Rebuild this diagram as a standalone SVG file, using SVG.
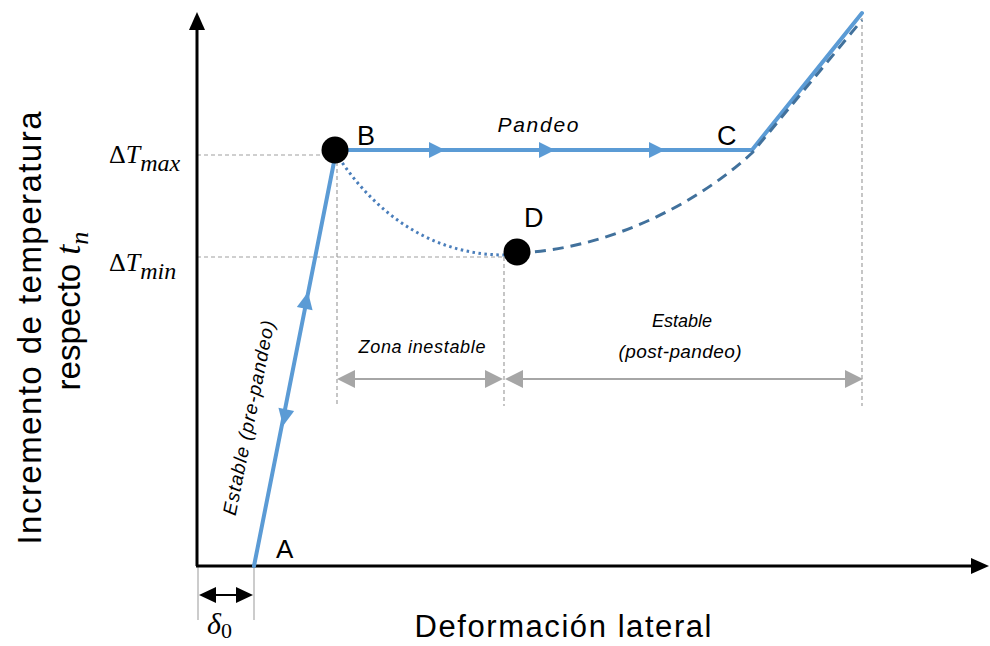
<svg xmlns="http://www.w3.org/2000/svg" width="990" height="646" viewBox="0 0 990 646">
<style>
  .axis{stroke:#000;stroke-width:3;fill:none}
  .blue{stroke:#5B9BD5;stroke-width:4;fill:none;stroke-linecap:round}
  .bluefill{fill:#5B9BD5}
  .dashb{stroke:#41719C;stroke-width:3;fill:none;stroke-dasharray:11 7}
  .dotb{stroke:#4A7EBB;stroke-width:3;fill:none;stroke-dasharray:2.5 3.5}
  .guide{stroke:#A0A0A0;stroke-width:1.2;fill:none;stroke-dasharray:4 3}
  .gline{stroke:#BBBBBB;stroke-width:1.5;fill:none}
  .garrow{stroke:#A6A6A6;stroke-width:2;fill:none}
  .gfill{fill:#A6A6A6}
  .lbl{font-family:"Liberation Sans",Arial,sans-serif;fill:#000}
  .it{font-style:italic}
  .math{font-family:"Liberation Serif","Times New Roman",serif;fill:#000}
</style>

<!-- guides -->
<g id="guides">
  <line class="guide" x1="197" y1="155" x2="336" y2="155"/>
  <line class="guide" x1="197" y1="257" x2="504" y2="257"/>
  <line class="guide" x1="337" y1="155" x2="337" y2="406"/>
  <line class="guide" x1="504" y1="257" x2="504" y2="406"/>
  <line class="guide" x1="862" y1="18" x2="862" y2="406"/>
  <line class="gline" x1="198" y1="566" x2="198" y2="620"/>
  <line class="gline" x1="254" y1="566" x2="254" y2="620"/>
</g>

<!-- axes -->
<g id="axes">
  <line class="axis" x1="197" y1="566" x2="197" y2="28"/>
  <polygon points="197,12 189,30 205,30" fill="#000"/>
  <line class="axis" x1="196" y1="566" x2="973" y2="566"/>
  <polygon points="989,566 971,558 971,574" fill="#000"/>
</g>

<!-- connectors -->
<g id="connectors">
  <line class="blue" x1="254" y1="566" x2="336" y2="152"/>
  <g class="bluefill">
    <polygon points="0,0 -17,-8 -17,8" transform="translate(308,292) rotate(-78.8)"/>
    <polygon points="0,0 -17,-8 -17,8" transform="translate(283,426) rotate(101.2)"/>
  </g>
  <line class="blue" x1="336" y1="150" x2="752" y2="150"/>
  <g class="bluefill">
    <polygon points="445,150 429,142 429,158"/>
    <polygon points="555,150 539,142 539,158"/>
    <polygon points="665,150 649,142 649,158"/>
  </g>
  <line class="blue" x1="752" y1="150" x2="862" y2="13"/>
  <path class="dotb" d="M339,158 C375,212 430,255 505,255"/>
  <path class="dashb" d="M517,253 C600,250 690,210 752,153 L862,20"/>
  <!-- zone arrows -->
  <line class="garrow" x1="350" y1="379" x2="490" y2="379"/>
  <polygon class="gfill" points="337,379 355,370 355,388"/>
  <polygon class="gfill" points="503,379 485,370 485,388"/>
  <line class="garrow" x1="518" y1="379" x2="848" y2="379"/>
  <polygon class="gfill" points="505,379 523,370 523,388"/>
  <polygon class="gfill" points="863,379 845,370 845,388"/>
  <!-- delta0 arrow -->
  <line stroke="#000" stroke-width="2" x1="210" y1="595" x2="242" y2="595"/>
  <polygon points="199,595 216,587 216,603" fill="#000"/>
  <polygon points="253,595 236,587 236,603" fill="#000"/>
</g>

<!-- nodes -->
<g id="node-B"><circle cx="335" cy="150" r="13.5" fill="#000"/><text class="lbl" x="357" y="145" font-size="27">B</text></g>
<g id="node-D"><circle cx="517" cy="252" r="13.5" fill="#000"/><text class="lbl" x="524" y="227" font-size="27">D</text></g>
<g id="node-A"><text class="lbl" x="276" y="558" font-size="26">A</text></g>
<g id="node-C"><text class="lbl" x="717" y="145" font-size="27">C</text></g>

<!-- labels -->
<g id="labels">
  <text class="lbl it" x="538" y="132" font-size="21" text-anchor="middle" textLength="81">Pandeo</text>
  <text class="lbl it" x="422" y="353" font-size="18" text-anchor="middle" textLength="127">Zona inestable</text>
  <text class="lbl it" x="682" y="327" font-size="18" text-anchor="middle" textLength="60">Estable</text>
  <text class="lbl it" x="680" y="358" font-size="19" text-anchor="middle" textLength="123">(post-pandeo)</text>
  <text class="lbl it" transform="translate(259,420) rotate(-78.6)" x="0" y="-4" font-size="19" text-anchor="middle" textLength="198">Estable (pre-pandeo)</text>
  <text class="lbl" x="563" y="637" font-size="31" text-anchor="middle" textLength="297">Deformación lateral</text>
  <g transform="translate(41,328) rotate(-90)">
    <text class="lbl" x="0" y="0" font-size="33" text-anchor="middle" textLength="433">Incremento de temperatura</text>
  </g>
  <g transform="translate(80,311) rotate(-90)">
    <text class="lbl" x="0" y="0" font-size="33" text-anchor="middle">respecto <tspan class="math" font-style="italic" font-size="36">t</tspan><tspan class="math" font-style="italic" font-size="26" dy="8">n</tspan></text>
  </g>
  <text class="math" x="109" y="163" font-size="26">Δ<tspan font-style="italic">T</tspan><tspan font-style="italic" font-size="24" dy="8">max</tspan></text>
  <text class="math" x="109" y="271" font-size="26">Δ<tspan font-style="italic">T</tspan><tspan font-style="italic" font-size="24" dy="8">min</tspan></text>
  <text class="math" x="207" y="634" font-size="30" font-style="italic">δ<tspan font-style="normal" font-size="22" dy="4">0</tspan></text>
</g>
</svg>
